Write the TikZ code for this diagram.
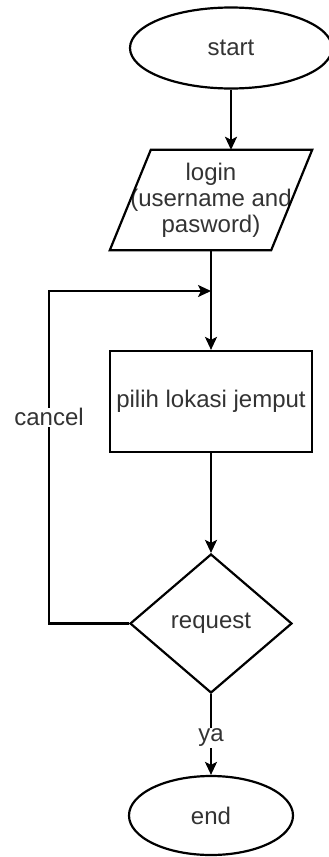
\documentclass[tikz,border=0pt]{standalone}
\usepackage{fontspec}
\setmainfont{Liberation Sans}
\usetikzlibrary{shapes.geometric,arrows.meta}
\tikzset{
  line/.style={line width=2.2pt, draw=black},
  arr/.style={line, -{Stealth[length=13pt,width=12pt,inset=3pt]}},
  lbl/.style={font=\fontsize{24}{26}\selectfont, text=black!80},
  term/.style={ellipse, draw, line width=2.2pt, fill=white, inner sep=0pt, lbl},
  proc/.style={rectangle, draw, line width=2.2pt, fill=white, inner sep=0pt, lbl},
  decis/.style={diamond, draw, line width=2.2pt, fill=white, inner sep=0pt, lbl},
  edgelbl/.style={fill=white, inner sep=1pt, lbl},
}
\begin{document}
\begin{tikzpicture}[x=1pt,y=-1pt]
\useasboundingbox[fill=white] (0,0) rectangle (329,857);

% terminals, input, process and decision
\node[term, minimum width=202pt, minimum height=81pt] (start) at (231,48) {start};
\node[lbl, minimum width=202pt, minimum height=100pt, inner sep=0pt, align=center] (login) at (211,200)
  {login\\(username and\\pasword)};
\draw[line] ([xshift=41pt]login.north west) -- (login.north east)
  -- ([xshift=-41pt]login.south east) -- (login.south west) -- cycle;
\node[proc, minimum width=202pt, minimum height=101pt] (pick) at (211,401.5) {pilih lokasi jemput};
\node[decis, minimum width=162pt, minimum height=139pt, aspect=1.165] (req) at (211,623.5) {request};
\node[term, minimum width=164pt, minimum height=79pt] (end) at (211,815.5) {end};

% junction where the cancel loop rejoins the main flow
\coordinate (merge) at (211,291);
\coordinate (loopcorner) at (49,623.5);

% connectors
\draw[arr] (start.south) -- (start.south |- login.north);
\draw[line] (login.south) -- (merge);
\draw[arr] (merge) -- (pick.north);
\draw[arr] (pick.south) -- (req.north);
\draw[arr] (req.west) -- (loopcorner) |- node[edgelbl, pos=0.31] {cancel} (merge);
\draw[arr] (req.south) -- node[edgelbl, pos=0.54] {ya} (end.north);
\end{tikzpicture}
\end{document}
